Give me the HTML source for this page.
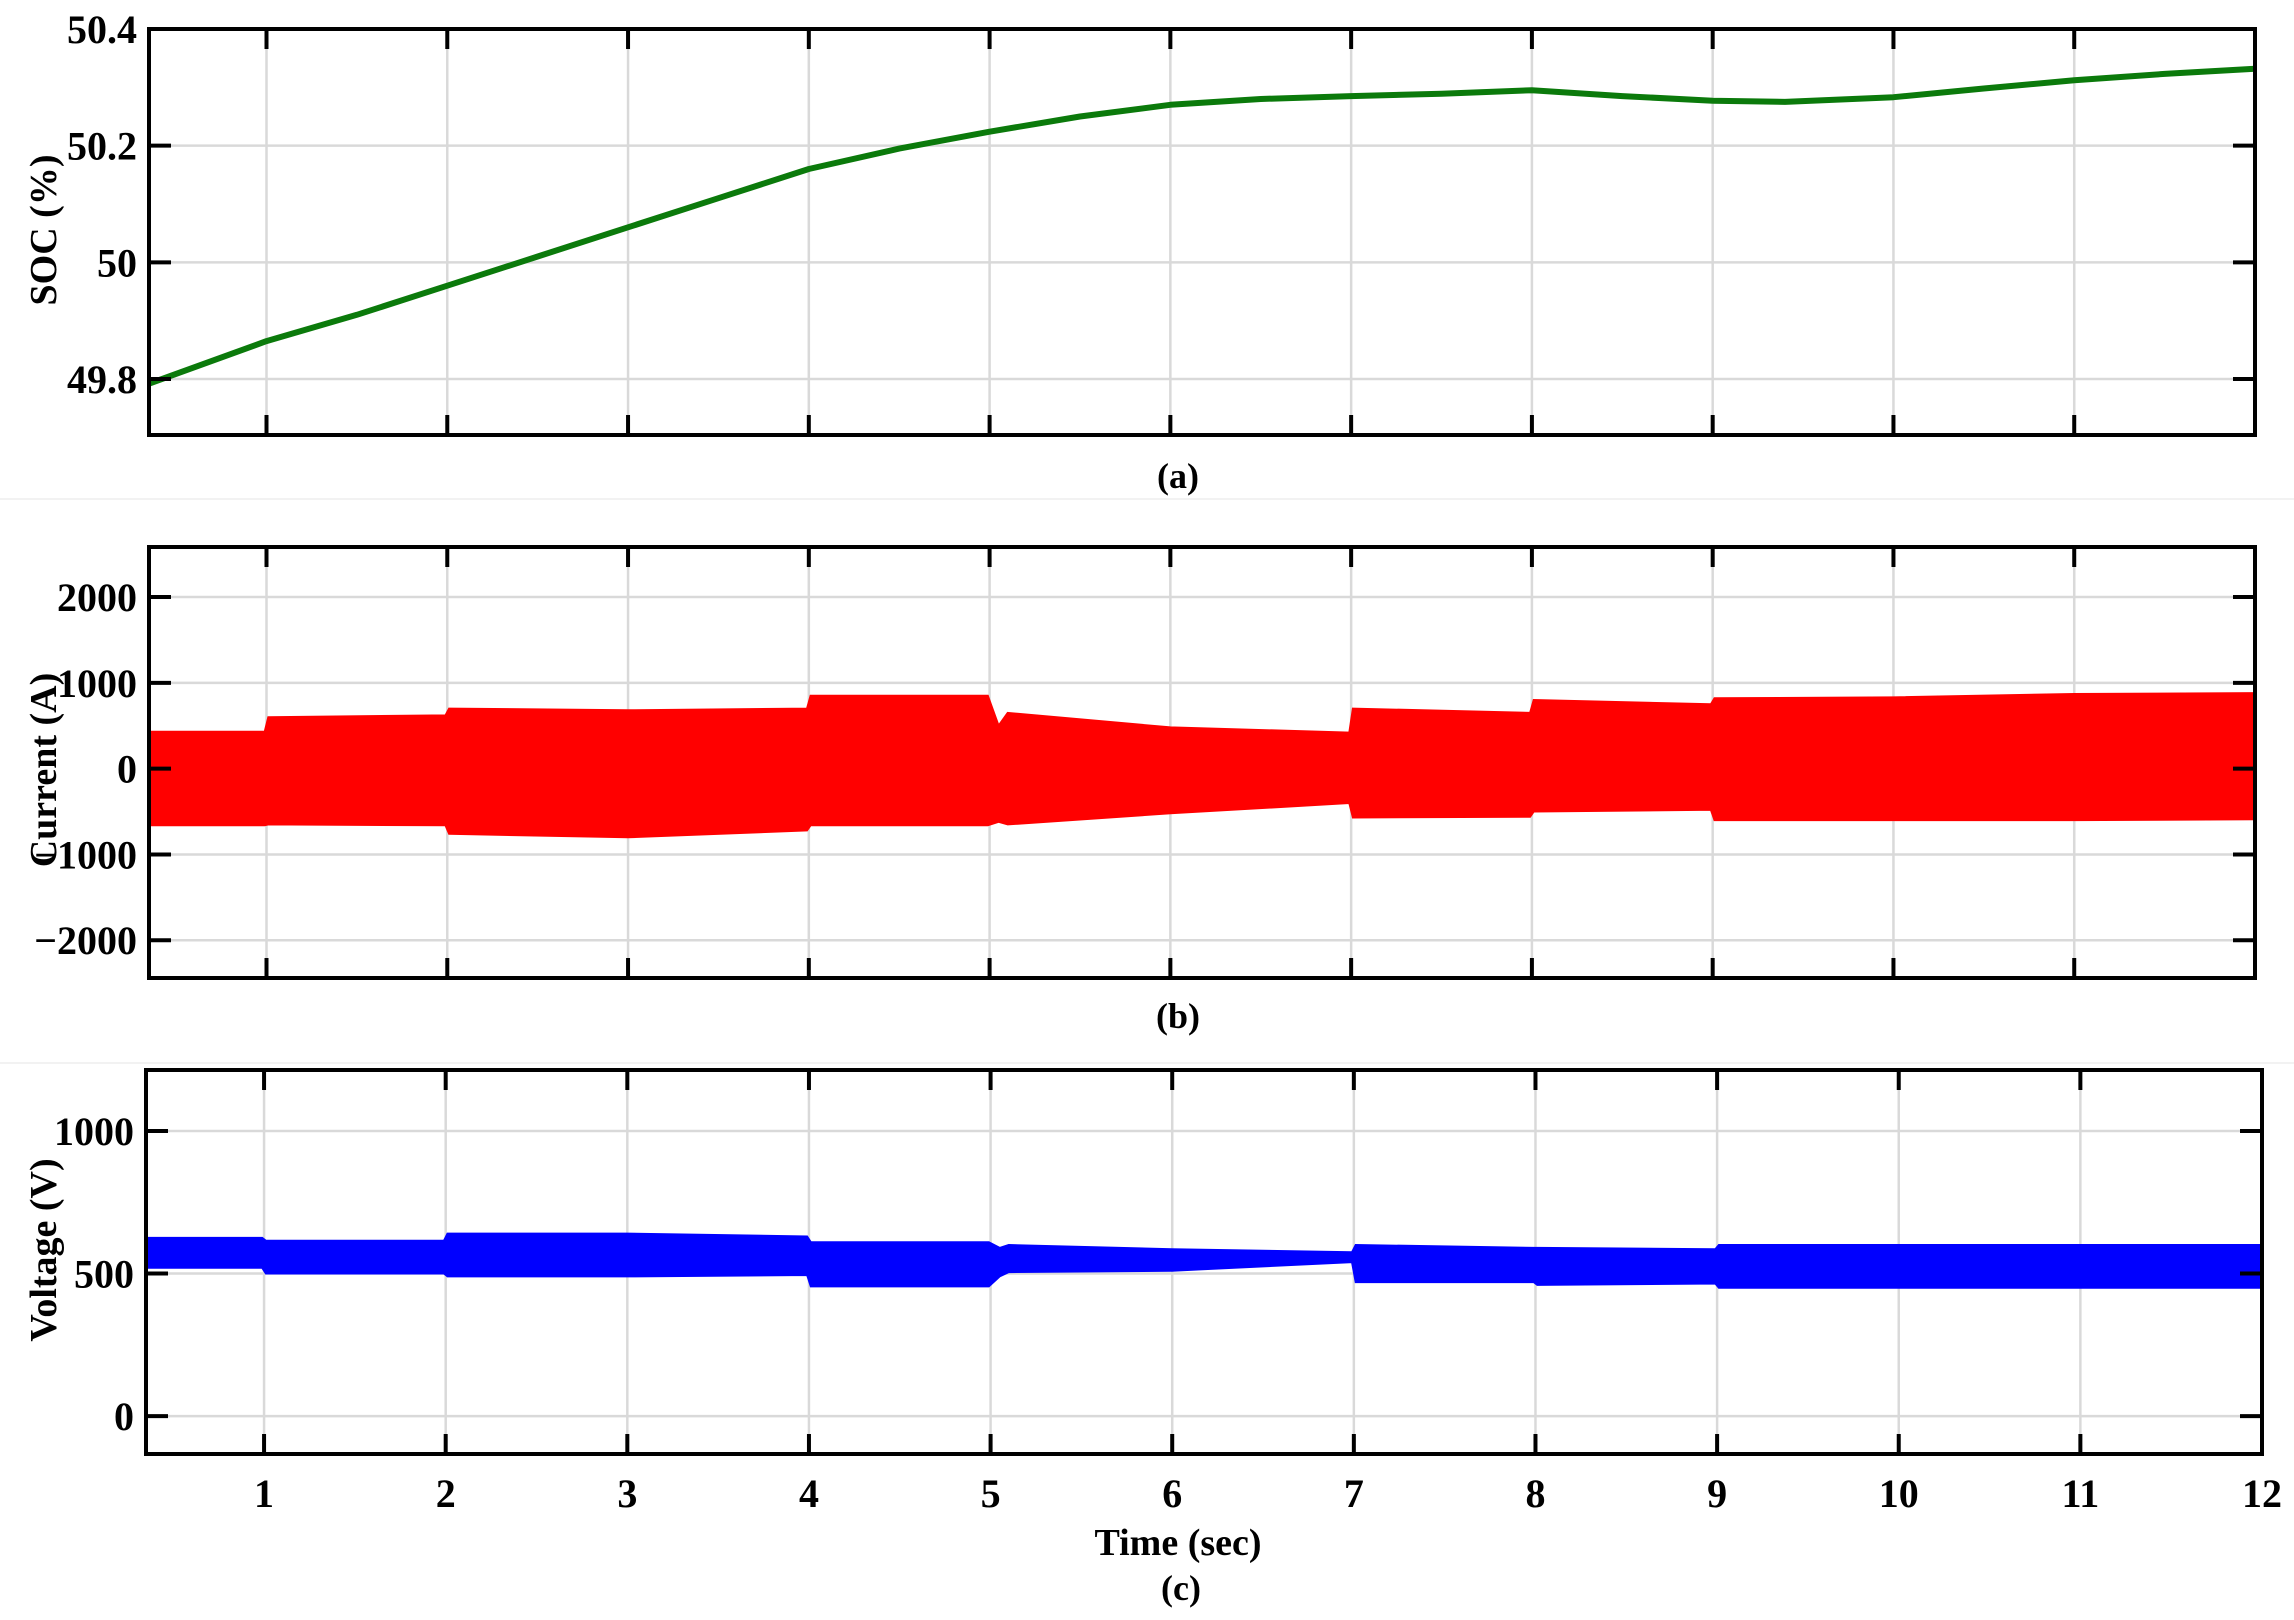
<!DOCTYPE html>
<html><head><meta charset="utf-8"><style>
html,body{margin:0;padding:0;background:#fff;}
svg{display:block;font-family:"Liberation Serif",serif;font-weight:bold;}
</style></head><body>
<svg id="fig" width="2294" height="1620" viewBox="0 0 2294 1620" xmlns="http://www.w3.org/2000/svg">
<line x1="0" y1="499" x2="2294" y2="499" stroke="#f2f2f2" stroke-width="2"/>
<line x1="0" y1="1063" x2="2294" y2="1063" stroke="#f2f2f2" stroke-width="2"/>
</svg>
<script>
// ---- data ----
const xTicks = [1,2,3,4,5,6,7,8,9,10,11,12];
const socTime = [0.35,1,1.5,2,2.5,3,3.5,4,4.5,5,5.5,6,6.5,7,7.5,8,8.5,9,9.4,10,10.5,11,11.5,12];
const socValue = [49.792,49.865,49.91,49.96,50.01,50.06,50.11,50.16,50.195,50.224,50.25,50.27,50.28,50.285,50.289,50.295,50.285,50.277,50.275,50.283,50.298,50.312,50.323,50.332];
const socTicks = [49.8,50,50.2,50.4];
const curTime  = [0.35,0.99,1.01,1.99,2.01,3.0,3.99,4.01,4.99,5.05,5.1,6.0,6.99,7.01,7.99,8.01,8.99,9.01,10,11,12];
const curUpper = [430,430,600,620,700,680,700,850,850,500,650,480,420,700,650,800,750,820,830,870,880];
const curLower = [-660,-660,-650,-660,-760,-800,-720,-660,-660,-620,-650,-520,-400,-570,-560,-500,-480,-600,-600,-600,-590];
const curTicks = [-2000,-1000,0,1000,2000];
const volTime  = [0.35,0.99,1.01,1.99,2.01,3.0,3.99,4.01,4.99,5.05,5.1,6.0,6.99,7.01,7.99,8.01,8.99,9.01,10,11,12];
const volUpper = [625,625,615,615,640,640,630,610,610,590,600,585,575,600,590,590,585,600,600,600,600];
const volLower = [520,520,500,500,490,490,495,455,455,490,505,510,540,470,470,460,465,450,450,450,450];
const volTicks = [0,500,1000];

const svg = document.getElementById('fig');
const NS = 'http://www.w3.org/2000/svg';
function mk(tag, attrs, parent){const e=document.createElementNS(NS,tag);for(const k in attrs)e.setAttribute(k,attrs[k]);(parent||svg).appendChild(e);return e;}

function panel(p){
  const g = mk('g',{});
  
  
  const X = t => p.L + (t - 0.35)/(12-0.35)*(p.R-p.L);
  const Y = v => p.B - (v - p.ymin)/(p.ymax-p.ymin)*(p.B-p.T);
  xTicks.forEach(t=>{ if(t<12){ const gl=mk('line',{x1:X(t),x2:X(t),y1:p.T,y2:p.B,stroke:'#d9d9d9','stroke-width':2.5},g);
      }});
  p.ticks.forEach(v=>{ const gl=mk('line',{x1:p.L,x2:p.R,y1:Y(v),y2:Y(v),stroke:'#d9d9d9','stroke-width':2.5},g);
      });
  if(p.line){
    const d = p.xs.map((t,i)=>(i?'L':'M')+X(t).toFixed(1)+','+Y(p.ys[i]).toFixed(1)).join(' ');
    const s=mk('path',{d:d,fill:'none',stroke:p.color,'stroke-width':6,'stroke-linejoin':'round'},g);
     
  } else {
    let pts = p.xs.map((t,i)=>X(t).toFixed(1)+','+Y(p.up[i]).toFixed(1));
    for(let i=p.xs.length-1;i>=0;i--) pts.push(X(p.xs[i]).toFixed(1)+','+Y(p.lo[i]).toFixed(1));
    const s=mk('polygon',{points:pts.join(' '),fill:p.color,stroke:p.color,'stroke-width':2},g);
     
  }
  const f=mk('rect',{x:p.L,y:p.T,width:p.R-p.L,height:p.B-p.T,fill:'none',stroke:'#000','stroke-width':4},g);
   
  xTicks.forEach(t=>{ if(t<12){
    mk('line',{x1:X(t),x2:X(t),y1:p.T,y2:p.T+20,stroke:'#000','stroke-width':4},g);
    mk('line',{x1:X(t),x2:X(t),y1:p.B,y2:p.B-20,stroke:'#000','stroke-width':4},g);
  }});
  p.ticks.forEach(v=>{
    mk('line',{x1:p.L,x2:p.L+22,y1:Y(v),y2:Y(v),stroke:'#000','stroke-width':4},g);
    mk('line',{x1:p.R,x2:p.R-22,y1:Y(v),y2:Y(v),stroke:'#000','stroke-width':4},g);
    const tl=mk('text',{x:p.L-12,y:Y(v)+14,'text-anchor':'end','font-size':40},g);
    tl.textContent = p.fmt(v);
     
  });
  const yl=mk('text',{x:0,y:0,'text-anchor':'middle','font-size':38,transform:`translate(${p.ylx},${p.yly}) rotate(-90)`},g);
  yl.textContent=p.ylabel;
   
  const cap=mk('text',{x:p.capX,y:p.capY,'text-anchor':'middle','font-size':36},g);
  cap.textContent=p.caption;
   
  if(p.xlabels){
    xTicks.forEach(t=>{ const tl=mk('text',{x:X(t),y:1507,'text-anchor':'middle','font-size':40},g);
      tl.textContent=t;   });
  }
}

panel({name:'soc-panel',L:149,R:2255,T:29,B:435,ymin:49.704,ymax:50.4,ticks:socTicks,fmt:v=>String(+v.toFixed(1)),
  line:true,xs:socTime,ys:socValue,color:'#0b7a0b',ylabel:'SOC (%)',ylx:56,yly:230,caption:'(a)',capX:1178,capY:488});
panel({name:'current-panel',L:149,R:2255,T:547,B:978,ymin:-2440,ymax:2583,ticks:curTicks,fmt:v=>v<0?'\u2212'+(-v):String(v),
  xs:curTime,up:curUpper,lo:curLower,color:'#ff0000',seriesName:'current-band',ylabel:'Current (A)',ylx:56,yly:770,caption:'(b)',capX:1178,capY:1028});
panel({name:'voltage-panel',L:146,R:2262,T:1070,B:1454,ymin:-133,ymax:1214,ticks:volTicks,fmt:v=>String(v),
  xs:volTime,up:volUpper,lo:volLower,color:'#0000ff',seriesName:'voltage-band',ylabel:'Voltage (V)',ylx:56,yly:1250,caption:'(c)',capX:1181,capY:1600,xlabels:true});

const xt=mk('text',{x:1178,y:1555,'text-anchor':'middle','font-size':38});
xt.textContent='Time (sec)';


</script>
</body></html>
